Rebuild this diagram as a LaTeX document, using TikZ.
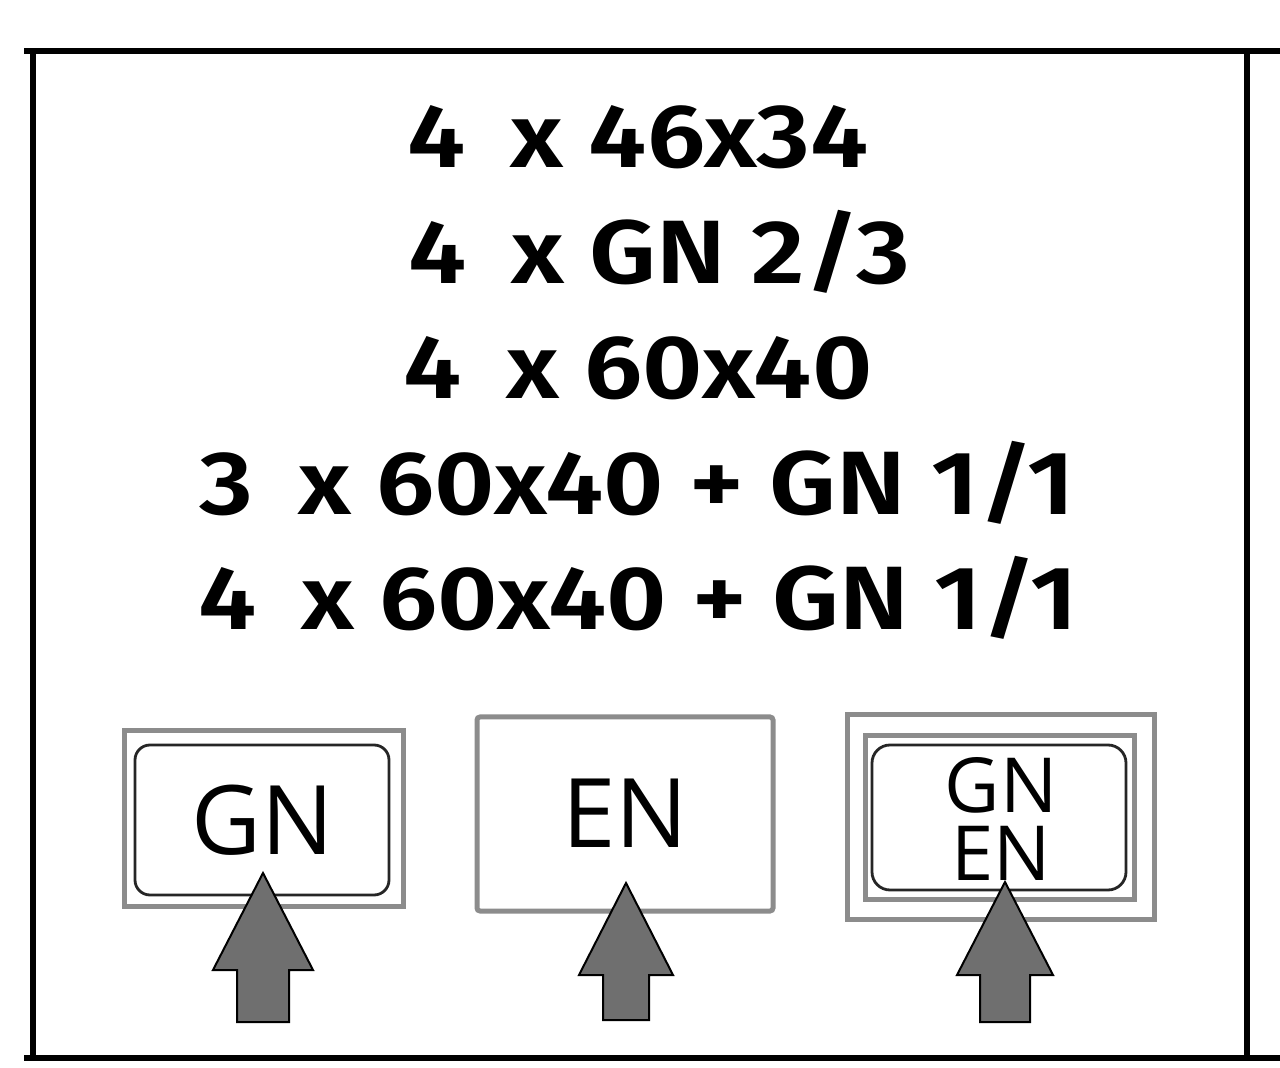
\documentclass[tikz,border=0pt]{standalone}
\usepackage{fontspec}
\setmainfont{Fira Sans}
\newfontfamily\countfont[FakeStretch=1.16]{Fira Sans SemiBold}
\newfontfamily\badgefont{Open Sans}
\definecolor{arrowgray}{HTML}{6F6F6F}
\definecolor{framegray}{HTML}{8C8C8C}
\begin{document}
\begin{tikzpicture}[x=0.5pt,y=-0.5pt,
  frameline/.style={line width=3pt},
  countline/.style={font=\countfont\fontsize{45}{45}\selectfont, anchor=base, inner sep=0pt},
  outerbox/.style={draw=framegray, line width=2.5pt, fill=white, inner sep=0pt},
  innerround/.style={draw=black!85, line width=1.4pt, rounded corners=7.5pt, inner sep=0pt},
  badgetext/.style={font=\badgefont\fontsize{48}{48}\selectfont, anchor=base, inner sep=0pt},
  badgetwo/.style={font=\badgefont\fontsize{38}{34}\selectfont, align=center, inner sep=0pt},
  uparrow/.style={fill=arrowgray, draw=black, line width=1pt, line join=miter}]
\useasboundingbox (0,0) rectangle (1280,1068);
\fill[white] (0,0) rectangle (1280,1068);

% frame lines
\coordinate (tl) at (24,51);
\coordinate (tr) at (1280,51);
\coordinate (bl) at (24,1058);
\coordinate (br) at (1280,1058);
\coordinate (lt) at (33,51);
\coordinate (lb) at (33,1058);
\coordinate (rt) at (1246.5,51);
\coordinate (rb) at (1246.5,1058);
\draw[frameline] (tl) -- (tr);
\draw[frameline] (bl) -- (br);
\draw[frameline] (lt) -- (lb);
\draw[frameline] (rt) -- (rb);

% count lines
\node[countline] (l1) at (638,168) {4\hspace{0.5em}x 46x34};
\node[countline] (l2) at (659,284) {4\hspace{0.5em}x GN 2/3};
\node[countline] (l3) at (638,399) {4\hspace{0.5em}x 60x40};
\node[countline] (l4) at (637,515) {3\hspace{0.5em}x 60x40 + GN 1/1};
\node[countline] (l5) at (638,630) {4\hspace{0.5em}x 60x40 + GN 1/1};

% badge 1: GN
\node[outerbox, minimum width=139.5pt, minimum height=88pt] (b1) at (264,818.5) {};
\node[innerround, minimum width=127pt, minimum height=75pt] (b1i) at (262,820) {};
\node[badgetext] (t1) at (263,855) {GN};

% badge 2: EN
\node[outerbox, rounded corners=1.5pt, minimum width=148pt, minimum height=97pt] (b2) at (625,814) {};
\node[badgetext] (t2) at (625,848) {EN};

% badge 3: GN / EN
\node[outerbox, minimum width=153.5pt, minimum height=102.5pt] (b3) at (1001,817) {};
\node[draw=framegray, line width=2.5pt, inner sep=0pt, minimum width=134.5pt, minimum height=82pt] (b3m) at (1000,817.5) {};
\node[innerround, rounded corners=9pt, minimum width=127pt, minimum height=72.5pt] (b3i) at (999,817.5) {};
\node[badgetwo, anchor=base] (t3) at (1001,880) {GN\\EN};

% arrows
\draw[uparrow] (263,873) -- (313,970) -- (289,970) -- (289,1022) -- (237,1022) -- (237,970) -- (213,970) -- cycle;
\draw[uparrow] (626,883) -- (673,975) -- (649,975) -- (649,1020) -- (603,1020) -- (603,975) -- (579,975) -- cycle;
\draw[uparrow] (1005,882) -- (1053,975) -- (1030,975) -- (1030,1022) -- (980,1022) -- (980,975) -- (957,975) -- cycle;
\end{tikzpicture}
\end{document}
